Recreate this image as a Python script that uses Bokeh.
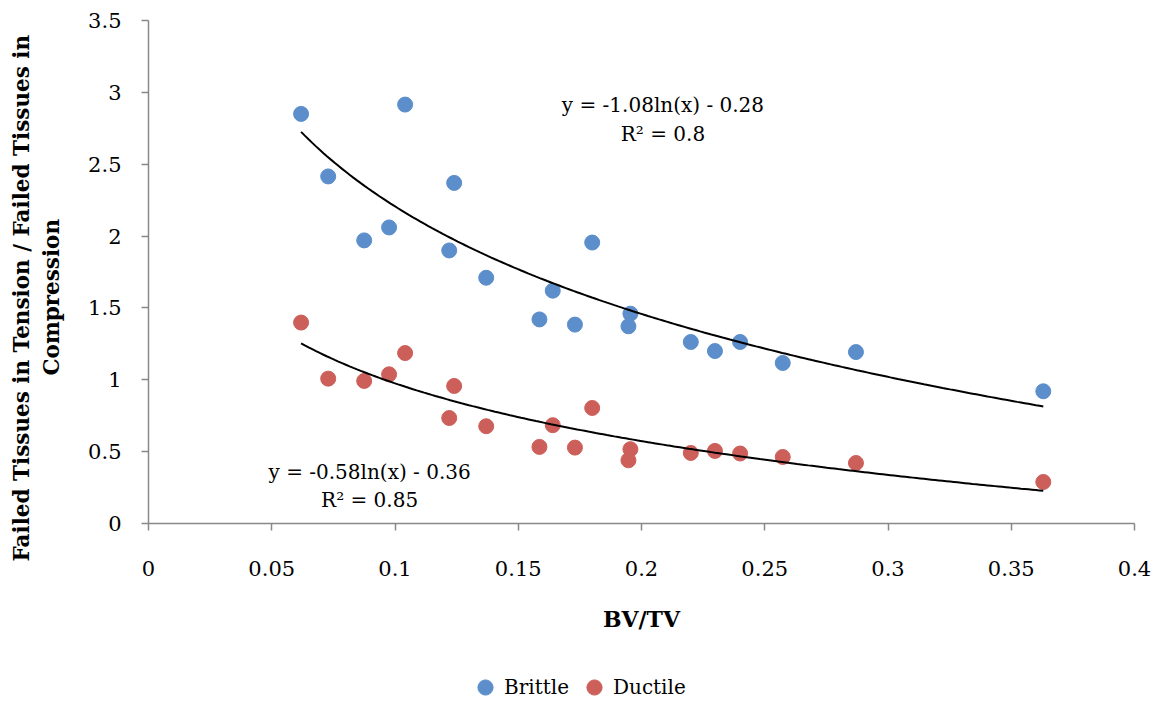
import numpy as np
from bokeh.plotting import figure
from bokeh.layouts import column
from bokeh.models import Range1d, Legend, LegendItem, Label, FixedTicker, Title
from bokeh.embed import file_html
from bokeh.resources import INLINE

# Bone volume fraction of each specimen
bv_tv = [0.0619, 0.0729, 0.0875, 0.0976, 0.1041, 0.1220, 0.1240, 0.1370, 0.1586, 0.1640,
         0.1730, 0.1800, 0.1947, 0.1955, 0.2200, 0.2298, 0.2400, 0.2573, 0.2870, 0.3630]

# Ratio of failed tissue in tension to failed tissue in compression
brittle = [2.850, 2.415, 1.970, 2.060, 2.915, 1.900, 2.370, 1.710, 1.420, 1.620,
           1.384, 1.955, 1.372, 1.460, 1.263, 1.200, 1.263, 1.117, 1.193, 0.920]
ductile = [1.398, 1.008, 0.992, 1.038, 1.186, 0.734, 0.957, 0.677, 0.533, 0.684,
           0.528, 0.804, 0.440, 0.517, 0.491, 0.505, 0.487, 0.463, 0.421, 0.289]

# Logarithmic trendlines  y = a ln(x) + b
brittle_fit = {"a": -1.08, "b": -0.28, "r2": "0.8"}
ductile_fit = {"a": -0.58, "b": -0.36, "r2": "0.85"}

x_ticks = [0, 0.05, 0.1, 0.15, 0.2, 0.25, 0.3, 0.35, 0.4]
x_tick_labels = ["0", "0.05", "0.1", "0.15", "0.2", "0.25", "0.3", "0.35", "0.4"]
y_ticks = [0, 0.5, 1, 1.5, 2, 2.5, 3, 3.5]
y_tick_labels = ["0", "0.5", "1", "1.5", "2", "2.5", "3", "3.5"]

series_names = ["Brittle", "Ductile"]

BLUE = "#5B8ECB"
RED = "#CD5F5A"
AXIS = "#898989"
SERIF = "DejaVu Serif"

W, H, LEGEND_H = 1163, 701, 54

p = figure(width=W, height=H - LEGEND_H,
           min_border_left=148, min_border_right=29,
           min_border_top=20, min_border_bottom=124,
           x_range=Range1d(0, 0.4), y_range=Range1d(0, 3.5),
           output_backend="svg", toolbar_location=None,
           background_fill_color="white", border_fill_color="white")
p.outline_line_color = None
p.xgrid.visible = False
p.ygrid.visible = False

p.scatter(bv_tv, brittle, size=15, marker="circle", fill_color=BLUE, line_color=BLUE)
p.scatter(bv_tv, ductile, size=15, marker="circle", fill_color=RED, line_color=RED)

xs = np.linspace(min(bv_tv), max(bv_tv), 200)
for fit in (brittle_fit, ductile_fit):
    ys = fit["a"] * np.log(xs) + fit["b"]
    p.line(xs, ys, line_color="black", line_width=2)

# axes
p.xaxis.ticker = FixedTicker(ticks=x_ticks)
p.yaxis.ticker = FixedTicker(ticks=y_ticks)
p.xaxis.major_label_overrides = dict(zip(x_ticks, x_tick_labels))
p.yaxis.major_label_overrides = dict(zip(y_ticks, y_tick_labels))
for ax in (p.xaxis, p.yaxis):
    ax.axis_line_color = AXIS
    ax.axis_line_width = 1.5
    ax.major_tick_line_color = AXIS
    ax.major_tick_line_width = 1.5
    ax.major_tick_in = 0
    ax.major_tick_out = 7
    ax.minor_tick_in = 0
    ax.minor_tick_out = 0
    ax.major_label_text_font = SERIF
    ax.major_label_text_font_size = "21px"
    ax.major_label_text_color = "black"
p.xaxis.major_label_standoff = 30
p.yaxis.major_label_standoff = 20

p.xaxis.axis_label = "BV/TV"
p.xaxis.axis_label_text_font = SERIF
p.xaxis.axis_label_text_font_size = "22px"
p.xaxis.axis_label_text_font_style = "bold"
p.xaxis.axis_label_text_color = "black"
p.xaxis.axis_label_standoff = 27

# two-line vertical axis title, inner line first
y_title = [("Compression", 148, 43), ("Failed Tissues in Tension / Failed Tissues in", -38, -37)]
for line, off, gap in y_title:
    p.add_layout(Title(text=line, align="left", offset=off, standoff=gap,
                       text_font=SERIF, text_font_size="21.5px",
                       text_font_style="bold", text_color="black"), "left")

# trendline equations
def eq_text(fit):
    return f"y = {fit['a']:.2f}ln(x) - {abs(fit['b']):.2f}"

for fit, cx, y1, y2 in ((brittle_fit, 0.2087, 2.915, 2.707),
                        (ductile_fit, 0.0897, 0.357, 0.162)):
    p.add_layout(Label(x=cx, y=y1, text=eq_text(fit),
                       text_align="center", text_baseline="alphabetic",
                       text_font=SERIF, text_font_size="20px", text_color="black"))
    p.add_layout(Label(x=cx, y=y2, text=f"R\u00b2 = {fit['r2']}",
                       text_align="center", text_baseline="alphabetic",
                       text_font=SERIF, text_font_size="20px", text_color="black"))

# legend strip under the chart (its frame lines up with the chart frame)
leg = figure(width=W, height=LEGEND_H, min_border=0,
             x_range=Range1d(0, 0.4), y_range=Range1d(0, 3.5),
             x_axis_location=None, y_axis_location=None,
             output_backend="svg", toolbar_location=None,
             background_fill_color="white", border_fill_color="white")
leg.outline_line_color = None
leg.xgrid.visible = False
leg.ygrid.visible = False
keys = []
for vals, c in ((brittle, BLUE), (ductile, RED)):
    r = leg.scatter(bv_tv, vals, size=15, marker="circle", fill_color=c, line_color=c)
    r.visible = False  # only used as legend keys
    keys.append(r)
legend = Legend(items=[LegendItem(label=n, renderers=[r]) for n, r in zip(series_names, keys)],
                orientation="horizontal", location=(318, -5),
                glyph_width=38, glyph_height=38, label_standoff=-8, spacing=6,
                padding=0, margin=0, border_line_color=None,
                background_fill_alpha=0, inactive_fill_alpha=0,
                label_text_font=SERIF, label_text_font_size="20px",
                label_text_color="black")
leg.add_layout(legend, "center")

open("out.html", "w").write(file_html(column(p, leg, spacing=0), INLINE))
